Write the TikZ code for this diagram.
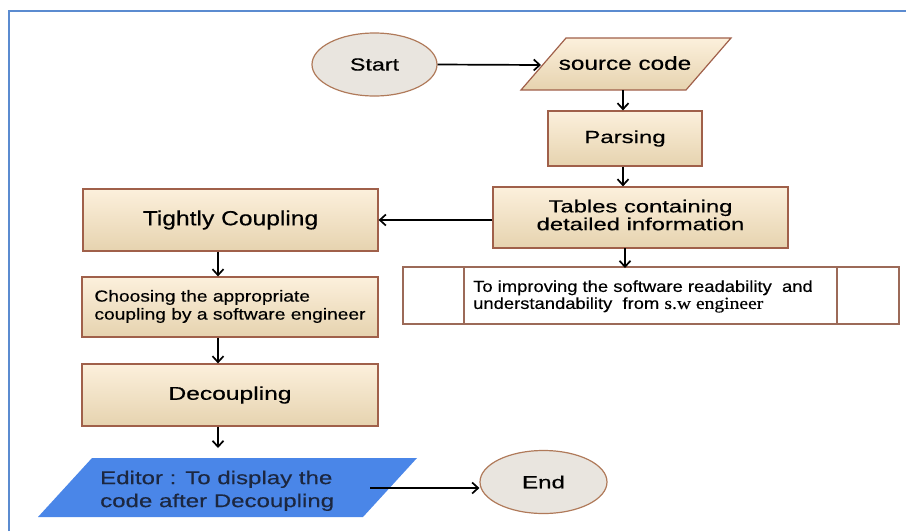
\documentclass[tikz,border=0pt]{standalone}
\usepackage{fontspec}
\setmainfont{Liberation Sans}[FakeBold=0.3]
\newfontfamily\altserif{Liberation Serif}[FakeBold=0.3]
\usepackage{graphicx}
\usetikzlibrary{arrows.meta,shapes.geometric}
\definecolor{boxtop}{HTML}{FCF0DC}
\definecolor{boxbot}{HTML}{E6D3AF}
\definecolor{boxline}{HTML}{A0604A}
\definecolor{ovalfill}{HTML}{E9E5DF}
\definecolor{ovalline}{HTML}{B07A5A}
\definecolor{edfill}{HTML}{4A86E8}
\definecolor{edtext}{HTML}{1C2740}
\definecolor{framecol}{HTML}{5B8BD0}
\definecolor{tblline}{HTML}{9C6A58}
\newcommand{\hs}[2]{\scalebox{#1}[1]{#2}}
\newcommand{\fs}[2]{\fontsize{#1}{#2}\selectfont}
\begin{document}
\begin{tikzpicture}[x=1pt,y=-1pt,
  procbox/.style={draw=boxline, line width=1.2pt, top color=boxtop, bottom color=boxbot, inner sep=0pt},
  oval/.style={ellipse, draw=ovalline, line width=1.2pt, fill=ovalfill, inner sep=0pt},
  conn/.style={line width=1.7pt, -{Straight Barb[length=6pt,width=11pt,line width=1.7pt]}},
  lbl/.style={inner sep=0pt, text=black}]
\useasboundingbox (0,0) rectangle (906,531);
% frame
\draw[framecol, line width=2pt] (9,531) -- (9,11) -- (906,11);

% start / end
\node[oval, minimum width=125pt, minimum height=63pt] (start) at (374.5,64.5) {\fs{17.5}{20}\hs{1.33}{Start}};
\node[oval, minimum width=127pt, minimum height=63pt] (end) at (543.5,482) {\fs{17.5}{20}\hs{1.38}{End}};

% source code parallelogram
\shadedraw[draw=boxline, line width=1.2pt, top color=boxtop, bottom color=boxbot]
  (566,38) -- (731,38) -- (686,90) -- (521,90) -- cycle;
\node[lbl] (src) at (625,63) {\fs{19}{22}\hs{1.28}{source code}};
\coordinate (srcL) at (541,65);
\coordinate (srcB) at (623,90);

% boxes
\node[procbox, minimum width=154pt, minimum height=55pt] (parse) at (625,138.5) {\fs{17.5}{20}\hs{1.37}{Parsing}};
\node[procbox, minimum width=295pt, minimum height=61pt] (tables) at (640.5,217.5)
  {\fs{17.5}{17}\hs{1.36}{\begin{tabular}{@{}c@{}}Tables containing\\detailed information\end{tabular}}};
\node[procbox, minimum width=295pt, minimum height=62pt] (tight) at (230.5,220) {\fs{20.5}{22}\hs{1.2}{Tightly Coupling}};
\node[procbox, minimum width=296pt, minimum height=60pt] (choose) at (230,307)
  {\fs{16}{18}\hs{1.2}{\begin{tabular}{@{}l@{}}Choosing the appropriate\\coupling by a software engineer\end{tabular}}};
\node[procbox, minimum width=296pt, minimum height=62pt] (decoup) at (230,395) {\fs{18.5}{20}\hs{1.33}{Decoupling}};

% editor parallelogram
\fill[edfill] (92,458) -- (417,458) -- (363,517) -- (38,517) -- cycle;
\node[lbl, anchor=west, text=edtext] (ed) at (100,491)
  {\fs{18.5}{23}\hs{1.3}{\begin{tabular}{@{}l@{}}Editor : To display the\\code after Decoupling\end{tabular}}};
\coordinate (edTop) at (218,448);
\coordinate (edR) at (370,488);

% table
\node[draw=tblline, line width=1.1pt, fill=white, minimum width=496pt, minimum height=57pt, inner sep=0pt] (tbl) at (651,295.5) {};
\draw[tblline, line width=1.1pt] (464,267) -- (464,324);
\draw[tblline, line width=1.1pt] (837,267) -- (837,324);
\node[lbl, anchor=west] (tbltxt) at (473,297)
  {\fs{16}{17}\hs{1.15}{\begin{tabular}{@{}l@{}}To improving the software readability\ \ and\\understandability\ \ from {\altserif\fontsize{17}{17}\selectfont s.w engineer}\end{tabular}}};

% connectors
\coordinate (cx) at (218,0);
\draw[conn] (start.east) -- (srcL);
\draw[conn] (srcB) -- (srcB |- parse.north);
\draw[conn] (srcB |- parse.south) -- (srcB |- tables.north);
\draw[conn] (625,248) -- (625,268);
\draw[conn] (tables.west |- tight.east) -- (tight.east);
\draw[conn] (tight.south -| cx) -- (choose.north -| cx);
\draw[conn] (choose.south -| cx) -- (decoup.north -| cx);
\draw[conn] (decoup.south -| cx) -- (edTop);
\draw[conn] (edR) -- (edR -| end.west);
\end{tikzpicture}
\end{document}
